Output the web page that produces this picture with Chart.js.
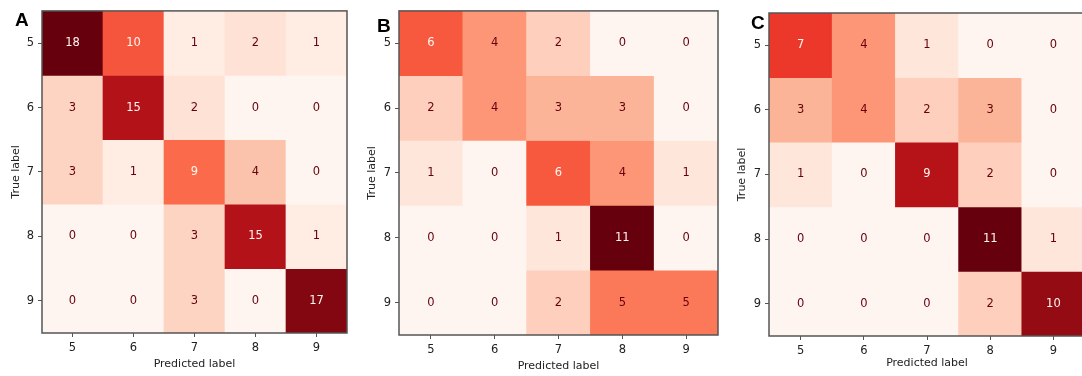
<!DOCTYPE html>
<html>
<head>
<meta charset="utf-8">
<script src="https://cdn.jsdelivr.net/npm/chart.js@4.4.1/dist/chart.umd.min.js"></script>
<style>
  html, body { margin: 0; padding: 0; background: #fff; overflow: hidden; }
  body { width: 1082px; height: 376px; position: relative; }
  .panel { position: absolute; top: 0; }
  .letter {
    position: absolute;
    font-family: "Liberation Sans", Arial, sans-serif;
    font-weight: bold;
    font-size: 19px;
    line-height: 19px;
    color: #000;
  }
</style>
</head>
<body>
<div class="panel" style="left:0px"><canvas id="chartA" width="352" height="376"></canvas></div>
<div class="panel" style="left:360px"><canvas id="chartB" width="362" height="376"></canvas></div>
<div class="panel" style="left:720px"><canvas id="chartC" width="370" height="376"></canvas></div>
<div class="letter" style="left:15px; top:10px">A</div>
<div class="letter" style="left:377px; top:16px">B</div>
<div class="letter" style="left:751px; top:13px">C</div>

<script>
// labels
const predictedLabels = ["5", "6", "7", "8", "9"];
const trueLabels = [5, 6, 7, 8, 9];

// confusion matrices, rows = true label, cols = predicted label
const matrixA = [
  [18, 10, 1, 2, 1],
  [3, 15, 2, 0, 0],
  [3, 1, 9, 4, 0],
  [0, 0, 3, 15, 1],
  [0, 0, 3, 0, 17]
];
const matrixB = [
  [6, 4, 2, 0, 0],
  [2, 4, 3, 3, 0],
  [1, 0, 6, 4, 1],
  [0, 0, 1, 11, 0],
  [0, 0, 2, 5, 5]
];
const matrixC = [
  [7, 4, 1, 0, 0],
  [3, 4, 2, 3, 0],
  [1, 0, 9, 2, 0],
  [0, 0, 0, 11, 1],
  [0, 0, 0, 2, 10]
];

// matplotlib "Reds" colormap stops
const redsStops = ["#fff5f0", "#fee0d2", "#fcbba1", "#fc9272", "#fb6a4a",
                   "#ef3b2c", "#cb181d", "#a50f15", "#67000d"];

function hexToRgb(h) {
  return [parseInt(h.slice(1, 3), 16), parseInt(h.slice(3, 5), 16), parseInt(h.slice(5, 7), 16)];
}

function reds(t) {
  t = Math.max(0, Math.min(1, t));
  const pos = t * (redsStops.length - 1);
  const i = Math.min(Math.floor(pos), redsStops.length - 2);
  const f = pos - i;
  const a = hexToRgb(redsStops[i]), b = hexToRgb(redsStops[i + 1]);
  const c = a.map((v, k) => Math.round(v + (b[k] - v) * f));
  return `rgb(${c[0]}, ${c[1]}, ${c[2]})`;
}

const tickFont = { family: "'DejaVu Sans', sans-serif", size: 11.5 };
const titleFont = { family: "'DejaVu Sans', sans-serif", size: 11 };
const axisColor = "#555";

// write the count in every cell
const cellText = {
  id: "cellText",
  afterDatasetsDraw(chart) {
    const ctx = chart.ctx;
    const info = chart.options.plugins.cellText;
    ctx.save();
    ctx.font = "11.5px 'DejaVu Sans', sans-serif";
    ctx.textAlign = "center";
    ctx.textBaseline = "middle";
    chart.data.datasets.forEach((ds, di) => {
      const meta = chart.getDatasetMeta(di);
      meta.data.forEach((bar, j) => {
        const v = ds.counts[j];
        ctx.fillStyle = v < info.thresh ? redsStops[8] : redsStops[0];
        ctx.fillText(String(v), bar.x, (bar.y + bar.base) / 2);
      });
    });
    ctx.restore();
  }
};

// box around the plot area
const frame = {
  id: "frame",
  afterDraw(chart) {
    const { ctx, chartArea: a } = chart;
    ctx.save();
    ctx.strokeStyle = axisColor;
    ctx.lineWidth = 1.5;
    ctx.strokeRect(a.left, a.top, a.right - a.left, a.bottom - a.top);
    ctx.restore();
  }
};

function makeChart(id, matrix, g) {
  const flat = matrix.flat();
  const vmax = Math.max(...flat);
  const vmin = Math.min(...flat);

  const datasets = trueLabels.map((t, r) => ({
    label: String(t),
    data: predictedLabels.map(() => [t - 0.5, t + 0.5]),
    counts: matrix[r],
    backgroundColor: matrix[r].map(v => reds((v - vmin) / (vmax - vmin))),
    borderWidth: 0,
    barPercentage: 1,
    categoryPercentage: 1,
    grouped: false
  }));

  return new Chart(document.getElementById(id), {
    type: "bar",
    data: { labels: predictedLabels, datasets: datasets },
    options: {
      responsive: false,
      animation: false,
      devicePixelRatio: 1,
      layout: { padding: { left: 0, right: g.padRight, top: g.padTop, bottom: 0 } },
      plugins: {
        legend: { display: false },
        tooltip: { enabled: false },
        cellText: { thresh: (vmax + vmin) / 2 }
      },
      scales: {
        x: {
          type: "category",
          offset: true,
          grid: { offset: false, drawOnChartArea: false, drawTicks: true, tickLength: 4, color: axisColor },
          border: { display: false },
          ticks: { font: tickFont, color: "#222", padding: 4, maxRotation: 0 },
          title: { display: true, text: "Predicted label", font: titleFont, color: "#222",
                   padding: { top: 0, bottom: g.xTitlePad } },
          afterFit(s) { s.height = g.xAxisH; }
        },
        y: {
          type: "linear",
          min: 4.5,
          max: 9.5,
          reverse: true,
          afterBuildTicks(s) { s.ticks = trueLabels.map(v => ({ value: v })); },
          grid: { drawOnChartArea: false, drawTicks: true, tickLength: 4, color: axisColor },
          border: { display: false },
          ticks: { font: tickFont, color: "#222", padding: 4 },
          title: { display: true, text: "True label", font: titleFont, color: "#222",
                   padding: { top: g.yTitlePad, bottom: 0 } },
          afterFit(s) { s.width = g.yAxisW; }
        }
      }
    },
    plugins: [cellText, frame]
  });
}

makeChart("chartA", matrixA, { yAxisW: 42, xAxisH: 43, padRight: 5, padTop: 9, yTitlePad: 9.4, xTitlePad: 5.4 });
makeChart("chartB", matrixB, { yAxisW: 39, xAxisH: 41, padRight: 4, padTop: 9, yTitlePad: 5.4, xTitlePad: 3.4 });
makeChart("chartC", matrixC, { yAxisW: 49, xAxisH: 40, padRight: 5, padTop: 13, yTitlePad: 15.4, xTitlePad: 6.4 });
</script>
</body>
</html>
